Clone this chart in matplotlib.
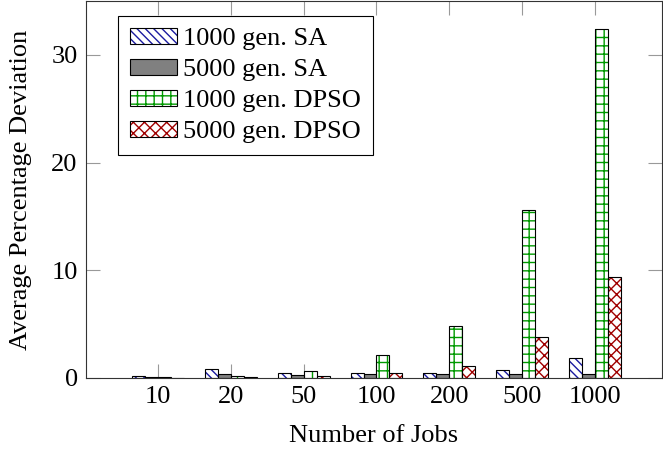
import numpy as np
import matplotlib
matplotlib.use("Agg")
import matplotlib.pyplot as plt
from matplotlib.legend_handler import HandlerTuple

plt.rcParams['font.family'] = ['Liberation Serif', 'DejaVu Serif']
plt.rcParams['hatch.linewidth'] = 1.0

jobs = ["10", "20", "50", "100", "200", "500", "1000"]
sa_1000 = [0.15, 0.8, 0.5, 0.45, 0.45, 0.77, 1.9]
sa_5000 = [0.05, 0.4, 0.3, 0.35, 0.4, 0.35, 0.4]
dpso_1000 = [0.05, 0.15, 0.65, 2.1, 4.85, 15.6, 32.4]
dpso_5000 = [0.02, 0.05, 0.15, 0.5, 1.1, 3.8, 9.35]

series = [
    ("1000 gen. SA", sa_1000, "white", "#1a1aa0", "\\\\\\\\"),
    ("5000 gen. SA", sa_5000, "#808080", "#808080", None),
    ("1000 gen. DPSO", dpso_1000, "white", "#009900", "++"),
    ("5000 gen. DPSO", dpso_5000, "white", "#a00000", "xxx"),
]

fs = 19
fig = plt.figure(figsize=(6.63, 4.5), dpi=100)
ax = fig.add_axes([86 / 663, 72 / 450, 576 / 663, 377 / 450])

x = np.arange(len(jobs))
w = 0.178
handles = []
labels = []
for i, (lab, vals, fc, hc, hatch) in enumerate(series):
    pos = x + (i - 1.5) * w
    ax.bar(pos, vals, w, color=fc, edgecolor=hc, hatch=hatch, linewidth=0, zorder=2)
    ax.bar(pos, vals, w, fill=False, edgecolor="black", linewidth=0.8, zorder=3)
    h1 = plt.Rectangle((0, 0), 1, 1, facecolor=fc, edgecolor=hc, hatch=hatch, linewidth=0)
    h2 = plt.Rectangle((0, 0), 1, 1, fill=False, edgecolor="black", linewidth=0.8)
    handles.append((h1, h2))
    labels.append(lab)

ax.set_xlim(-0.988, 6.92)
ax.set_ylim(0, 35)
ax.set_xticks(x)
ax.set_xticklabels(jobs)
ax.set_yticks([0, 10, 20, 30])
ax.tick_params(direction="in", length=10, width=0.8, color="#999999",
               top=True, right=True, labelsize=fs, pad=6)
for s in ax.spines.values():
    s.set_linewidth(0.8)
    s.set_color("#333333")
ax.set_xlabel("Number of Jobs", fontsize=fs, labelpad=12)
ax.set_ylabel("Average Percentage Deviation", fontsize=fs, labelpad=14)

leg = ax.legend(handles, labels, handler_map={tuple: HandlerTuple(ndivide=1)},
                loc="upper left", bbox_to_anchor=(0.056, 0.96), fontsize=fs,
                handlelength=1.77, handleheight=0.55, handletextpad=0.25,
                labelspacing=0.33, borderpad=0.45, borderaxespad=0,
                fancybox=False, framealpha=1, edgecolor="black")
leg.get_frame().set_linewidth(0.8)

fig.savefig("out.png", dpi=100)
